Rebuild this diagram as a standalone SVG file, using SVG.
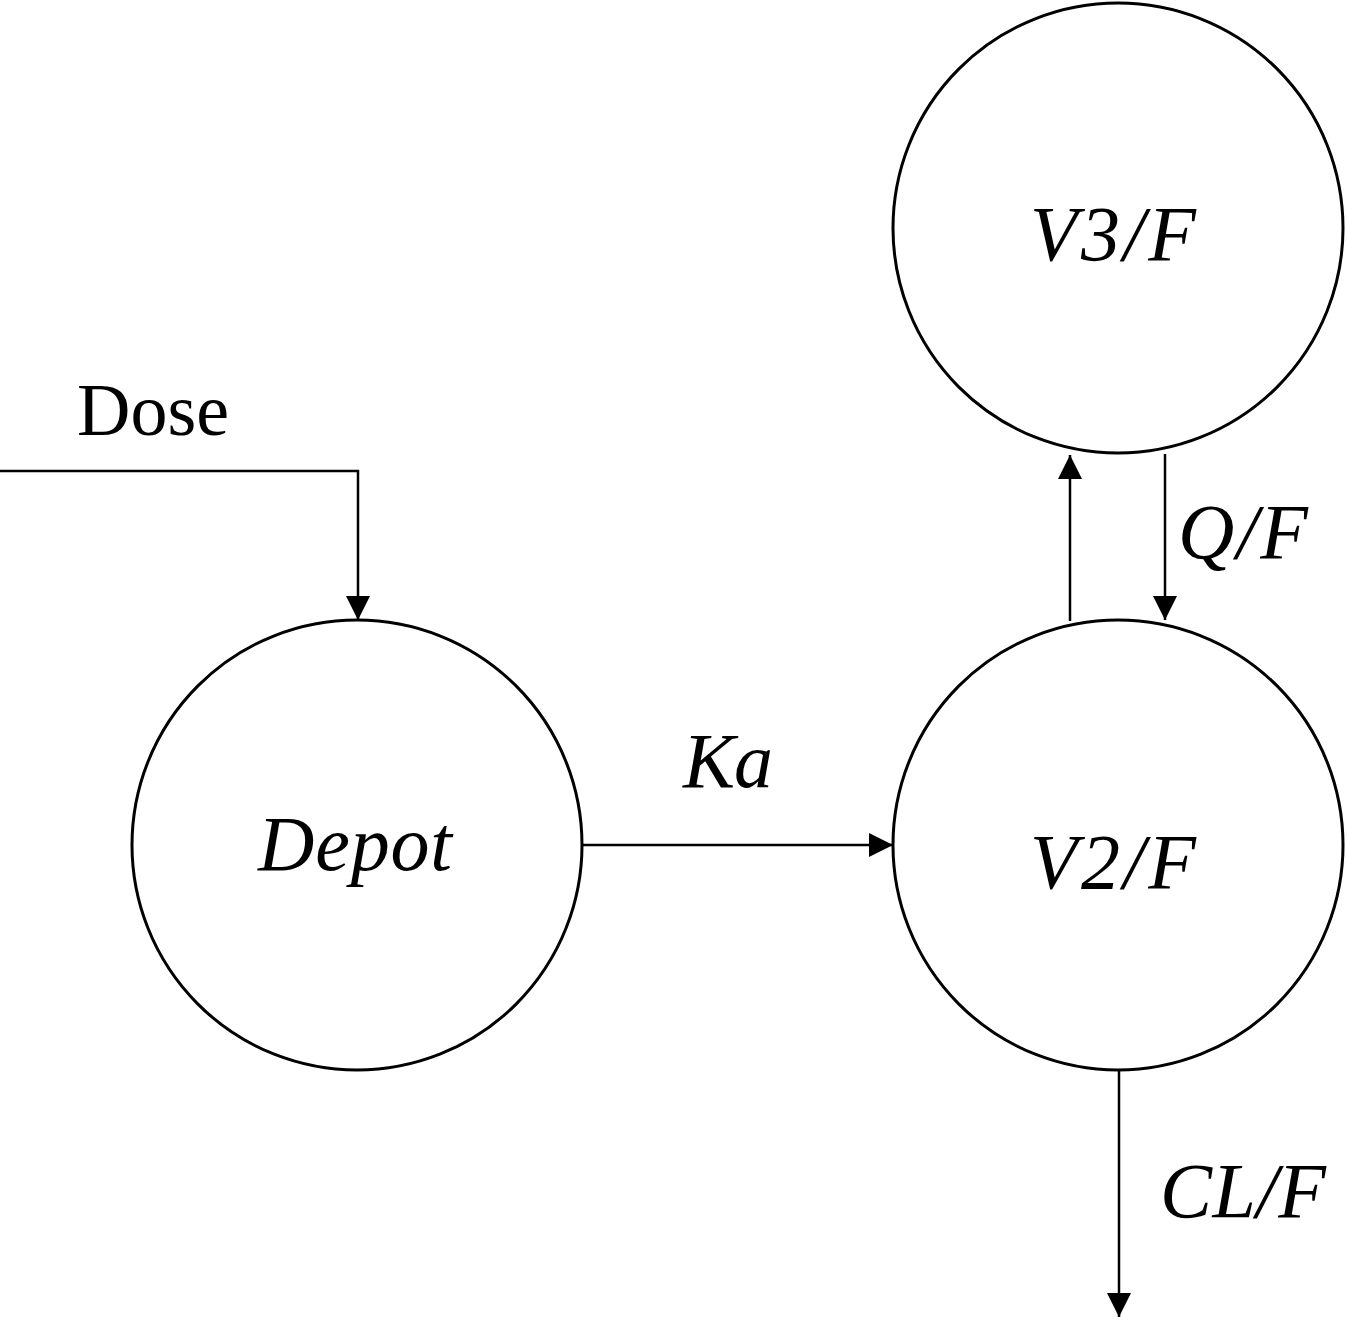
<svg xmlns="http://www.w3.org/2000/svg" width="1347" height="1320" viewBox="0 0 1347 1320">
<style>
.node{fill:#fff;stroke:#000;stroke-width:3}
.edge{fill:none;stroke:#000;stroke-width:2.5}
.math{font-family:"Liberation Serif","Times New Roman",serif;font-style:italic;font-size:78px;fill:#000}
.plain{font-family:"Liberation Serif","Times New Roman",serif;font-size:75px;fill:#000}
</style>
<defs>
<marker id="arr" viewBox="0 0 24 24" refX="24" refY="12" markerWidth="24" markerHeight="24" markerUnits="userSpaceOnUse" orient="auto">
<path d="M0,0 L24,12 L0,24 Z" fill="#000"/>
</marker>
</defs>
<g id="node-depot">
<circle class="node" cx="357" cy="845" r="225"/>
<text class="math" x="258" y="870" textLength="194" lengthAdjust="spacing">Depot</text>
</g>
<g id="node-v2">
<circle class="node" cx="1118" cy="845" r="225"/>
<text class="math" x="1030" y="888" textLength="166" lengthAdjust="spacing">V2/F</text>
</g>
<g id="node-v3">
<circle class="node" cx="1118" cy="228" r="225"/>
<text class="math" x="1030" y="260" textLength="166" lengthAdjust="spacing">V3/F</text>
</g>
<g id="connectors">
<path class="edge" d="M0,471 H358 V620" marker-end="url(#arr)"/>
<path class="edge" d="M582,845 H893" marker-end="url(#arr)"/>
<path class="edge" d="M1070,621 V455" marker-end="url(#arr)"/>
<path class="edge" d="M1165,454 V620" marker-end="url(#arr)"/>
<path class="edge" d="M1119,1070 V1317" marker-end="url(#arr)"/>
</g>
<g id="labels">
<text class="plain" x="77" y="435" textLength="152" lengthAdjust="spacingAndGlyphs">Dose</text>
<text class="math" x="683" y="787" textLength="90" lengthAdjust="spacing">Ka</text>
<text class="math" x="1178" y="558" textLength="130" lengthAdjust="spacing">Q/F</text>
<text class="math" x="1160" y="1217" textLength="166" lengthAdjust="spacing">CL/F</text>
</g>
</svg>
